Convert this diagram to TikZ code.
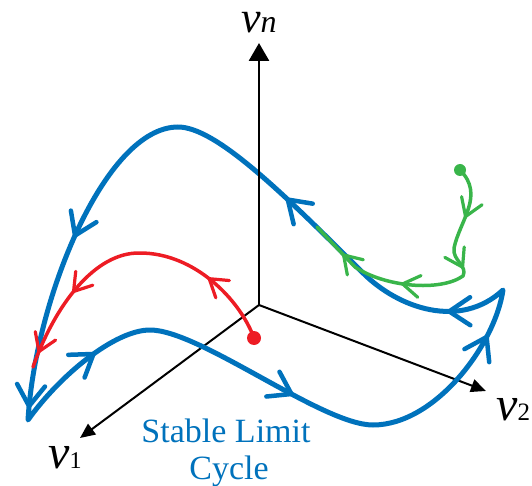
\documentclass[tikz,border=0pt]{standalone}
\usepackage{fontspec}
\setmainfont{Liberation Serif}
\usetikzlibrary{arrows.meta,decorations.markings}
\definecolor{cblue}{RGB}{0,114,188}
\definecolor{cred}{RGB}{237,28,36}
\definecolor{cgreen}{RGB}{57,181,74}
\begin{document}
\begin{tikzpicture}[x=1pt,y=-1pt,
  axis/.style={line width=2pt,-{Triangle[length=15pt,width=13pt]}},
  axisn/.style={line width=2.8pt,-{Triangle[length=18pt,width=20pt]}},
  blueline/.style={cblue,line width=5pt,line join=round,line cap=round},
  redline/.style={cred,line width=3.5pt,line cap=round,line join=round},
  greenline/.style={cgreen,line width=3.5pt,line cap=round,line join=round},
  bchev/.style={cblue,line width=4.5pt,line cap=round,line join=miter},
  rchev/.style={cred,line width=3.2pt,line cap=round,line join=miter},
  gchev/.style={cgreen,line width=3.2pt,line cap=round,line join=miter},
  bmk/.style={postaction={decorate,decoration={markings,mark=at position #1 with {\draw[bchev] (-21,14) -- (0,0) -- (-21,-14);}}}},
  rmk/.style={postaction={decorate,decoration={markings,mark=at position #1 with {\draw[rchev] (-17,11) -- (0,0) -- (-17,-11);}}}},
  gmk/.style={postaction={decorate,decoration={markings,mark=at position #1 with {\draw[gchev] (-17,11) -- (0,0) -- (-17,-11);}}}},
  lbl/.style={anchor=base west,inner sep=0pt}
]
\useasboundingbox (0,0) rectangle (532,486);

% axes
\coordinate (O) at (259,305);
\coordinate (vn) at (259,43);
\coordinate (v1) at (80,438);
\coordinate (v2) at (486,391);
\draw[axis] (O) -- (v1);
\draw[axis] (O) -- (v2);

% blue limit cycle
\coordinate (P) at (150,330);
\coordinate (B) at (373,425);
\coordinate (C2) at (503,290);
\coordinate (M) at (363,273);
\coordinate (T) at (178,127);
\coordinate (C1) at (28,420);
\draw[blueline] (P) .. controls (200,330) and (322,425) .. (B)
  .. controls (435,425) and (495,345) .. (C2)
  .. controls (460,330) and (398,308) .. (M)
  .. controls (280,190) and (215,127) .. (T)
  .. controls (105,127) and (35,300) .. (C1)
  .. controls (60,375) and (115,330) .. (P) -- cycle;
\path[bmk=0.6] (C1) .. controls (60,375) and (115,330) .. (P);
\path[bmk=0.64] (P) .. controls (200,330) and (322,425) .. (B);
\path[bmk=0.75] (B) .. controls (435,425) and (495,345) .. (C2);
\path[bmk=0.38] (C2) .. controls (460,330) and (398,308) .. (M);
\path[bmk=0.44] (M) .. controls (280,190) and (215,127) .. (T);
\path[bmk=0.45,bmk=0.96] (T) .. controls (105,127) and (35,300) .. (C1);

\draw[axisn] (O) -- (vn);

% red trajectory
\coordinate (R0) at (254,338);
\coordinate (R1) at (140,253);
\coordinate (R2) at (33,367);
\draw[redline] (R0) .. controls (240,300) and (195,253) .. (R1)
  .. controls (95,252) and (55,305) .. (R2);
\path[rmk=0.5] (R0) .. controls (240,300) and (195,253) .. (R1);
\path[rmk=0.48,rmk=0.9] (R1) .. controls (95,252) and (55,305) .. (R2);
\fill[cred] (R0) circle[radius=7pt];

% green trajectory
\coordinate (G0) at (460,170);
\coordinate (G1) at (454,248);
\coordinate (G2) at (463,276);
\coordinate (G3) at (355,267);
\coordinate (G4) at (317,227);
\draw[greenline] (G0) .. controls (485,195) and (460,220) .. (G1)
  .. controls (452,260) and (468,266) .. (G2)
  .. controls (440,292) and (385,287) .. (G3) -- (G4);
\path[gmk=0.6] (G0) .. controls (485,195) and (460,220) .. (G1);
\path[gmk=0.7] (G1) .. controls (452,260) and (468,266) .. (G2);
\path[gmk=0.55] (G2) .. controls (440,292) and (385,287) .. (G3);
\path[gmk=0.3] (G3) -- (G4);
\fill[cgreen] (G0) circle[radius=6pt];

% labels
\node[lbl] (ln) at (241,33) {\fontsize{44}{44}\selectfont\itshape v\fontsize{32}{32}\selectfont n};
\node[lbl] (l1) at (48,468) {\fontsize{48}{48}\selectfont\itshape v\upshape\fontsize{24}{24}\selectfont 1};
\node[lbl] (l2) at (496,420) {\fontsize{48}{48}\selectfont\itshape v\upshape\fontsize{25}{25}\selectfont 2};
\node[cblue,anchor=base,inner sep=0pt,font=\fontsize{34}{34}\selectfont] (t1) at (226,442) {Stable Limit};
\node[cblue,anchor=base,inner sep=0pt,font=\fontsize{34}{34}\selectfont] (t2) at (229,479) {Cycle};
\end{tikzpicture}
\end{document}
